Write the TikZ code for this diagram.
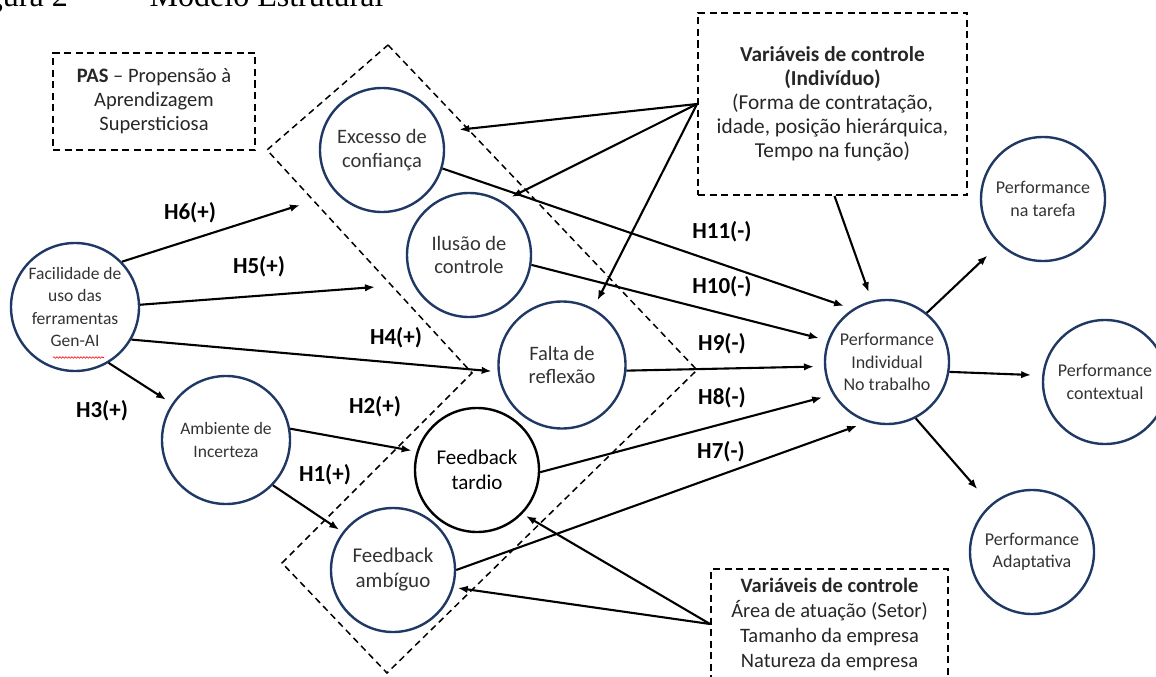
\documentclass[tikz,border=0pt]{standalone}
\usepackage{fontspec}
\setmainfont{Carlito}
\newfontfamily\timesf{Liberation Serif}
\usetikzlibrary{arrows.meta,decorations.pathmorphing}
\definecolor{navy}{HTML}{203864}
\definecolor{txt}{HTML}{333333}
\begin{document}
\begin{tikzpicture}[x=1pt,y=-1pt,
  circ/.style={circle, draw=navy, line width=2.4pt, minimum size=124pt, inner sep=0pt,
    align=center, text=txt, font=\fontsize{20.5}{23.5}\selectfont},
  small/.style={font=\fontsize{17.5}{22.3}\selectfont},
  perfc/.style={font=\fontsize{18}{22.5}\selectfont},
  arr/.style={-{Latex[length=10pt,width=7.5pt]}, line width=2.1pt},
  hyp/.style={font=\bfseries\fontsize{23}{26}\selectfont, inner sep=0pt},
  dbox/.style={draw, line width=1.9pt, dash pattern=on 7pt off 4.5pt, inner sep=0pt,
    align=center, text=black!85, font=\fontsize{20.5}{24}\selectfont},
  diam/.style={line width=1.5pt, dash pattern=on 6.5pt off 4.5pt}
]
\useasboundingbox (0,0) rectangle (1156,677);
\clip (0,0) rectangle (1156,677);

% caption
\node[anchor=base west, inner sep=0pt, font=\timesf\fontsize{32}{32}\selectfont] (cap) at (-40,7)
  {Figura 2\hspace{33pt}–\hspace{33pt}Modelo Estrutural};

% dashed region
\draw[diam] (388,45) -- (697,370) -- (387,673) -- (282,563) -- (472,373) -- (267,150) -- cycle;

% boxes
\node[dbox, minimum width=202pt, minimum height=97pt] (pas) at (154,101.5)
  {\textbf{PAS} – Propensão à\\Aprendizagem\\Supersticiosa};
\node[dbox, minimum width=269pt, minimum height=182pt, font=\fontsize{21.3}{24}\selectfont] (vci) at (832.5,104)
  {\textbf{Variáveis de controle}\\\textbf{(Indivíduo)}\\(Forma de contratação,\\idade, posição hierárquica,\\Tempo na função)};
\node[dbox, minimum width=237pt, minimum height=110pt, font=\fontsize{20.5}{25}\selectfont] (vce) at (829.5,624)
  {\textbf{Variáveis de controle}\\Área de atuação (Setor)\\Tamanho da empresa\\Natureza da empresa};

% circles
\node[circ, small, minimum size=128pt] (fac) at (75,307) {Facilidade de\\uso das\\ferramentas\\Gen-AI};
\node[circ] (exc) at (382,150) {Excesso de\\confiança};
\node[circ] (ilu) at (469,255) {Ilusão de\\controle};
\node[circ, minimum size=127pt] (fal) at (562,365) {Falta de\\reflexão};
\node[circ, small, minimum size=128pt] (amb) at (226,440) {Ambiente de\\Incerteza};
\node[circ, draw=black, text=black, font=\fontsize{21}{25}\selectfont] (fbt) at (477,470) {Feedback\\tardio};
\node[circ, font=\fontsize{21}{25}\selectfont] (fba) at (393,570) {Feedback\\ambíguo};
\node[circ, perfc] (perf) at (887,362) {Performance\\Individual\\No trabalho};
\node[circ, perfc] (tar) at (1043,199) {Performance\\na tarefa};
\node[circ, perfc] (ctx) at (1105,382) {Performance\\contextual};
\node[circ, perfc] (ada) at (1032,552) {Performance\\Adaptativa};

% spell-check squiggle under Gen-AI
\draw[red, line width=0.6pt, decorate, decoration={snake, amplitude=0.8pt, segment length=3pt}]
  (53,357.5) -- (104,357.5);

% free ends
\coordinate (h6e) at (300,205);
\coordinate (h5e) at (375,287);

% arrows from Facilidade
\draw[arr] (fac.44) -- (h6e);
\draw[arr] (fac.2) -- (h5e);
\draw[arr, shorten >=6pt] (fac.-30) -- (fal.186);
\draw[arr, shorten >=7pt] (fac.-59) -- (amb.146);
% from Ambiente
\draw[arr, shorten >=5pt] (amb.10) -- (fbt.163);
\draw[arr, shorten >=4pt] (amb.-44) -- (fba.143);
% to Performance Individual
\draw[arr, shorten >=9pt] (exc.-17) -- (perf.123);
\draw[arr, shorten >=9pt] (ilu.-9) -- (perf.160);
\draw[arr, shorten >=10pt] (fal.-5) -- (perf.184);
\draw[arr, shorten >=11pt] (fbt.-2) -- (perf.211);
\draw[arr, shorten >=11pt] (fba.0) -- (perf.252);
% control variables (individual)
\draw[arr, shorten >=17pt] (vci.west) -- (exc.17);
\draw[arr, shorten >=10pt] (vci.west) -- (ilu.58);
\draw[arr, shorten >=9pt] (vci.west) -- (fal.61);
\draw[arr, shorten >=9pt] ([xshift=2pt]vci.south) -- (perf.104);
% control variables (company)
\draw[arr, shorten >=4pt] (vce.west) -- (fbt.-44);
\draw[arr, shorten >=4pt] (vce.west) -- (fba.-16);
% performance dimensions
\draw[arr, shorten >=16pt] (perf.51) -- (tar.226);
\draw[arr, shorten >=11pt] (perf.-9) -- (ctx.174);
\draw[arr, shorten >=20pt] (perf.-63) -- (ada.131);

% labels
\node[hyp] (l6) at (190,213) {H6(+)};
\node[hyp] (l5) at (259,267) {H5(+)};
\node[hyp] (l4) at (396,338) {H4(+)};
\node[hyp] (l3) at (102,411) {H3(+)};
\node[hyp] (l2) at (375,407) {H2(+)};
\node[hyp] (l1) at (325,475) {H1(+)};
\node[hyp] (l11) at (722,232) {H11(-)};
\node[hyp] (l10) at (722,287) {H10(-)};
\node[hyp] (l9) at (722,344) {H9(-)};
\node[hyp] (l8) at (722,398) {H8(-)};
\node[hyp] (l7) at (721,452) {H7(-)};
\end{tikzpicture}
\end{document}
